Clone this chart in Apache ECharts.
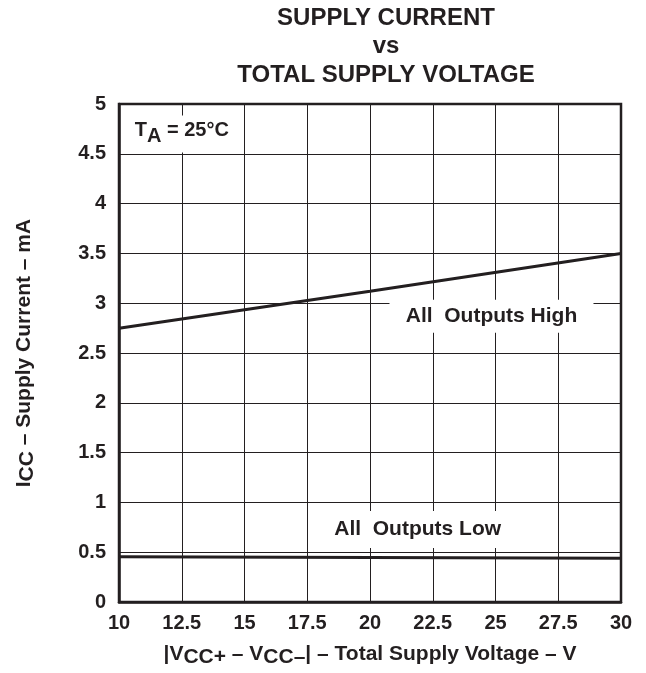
<!DOCTYPE html>
<html>
<head>
<meta charset="utf-8">
<style>html,body{margin:0;padding:0;background:#fff;overflow:hidden;}#c{width:646px;height:673px;}</style>
<script src="https://cdn.jsdelivr.net/npm/echarts@6/dist/echarts.min.js"></script>
</head>
<body>
<div id="c"></div>
<script>
const voltage = [10, 20, 30];
const highCurrent = [2.75, 3.12, 3.5];
const lowCurrent = [0.455, 0.448, 0.44];
const xTicks = [10, 12.5, 15, 17.5, 20, 22.5, 25, 27.5, 30];
const yTicks = [0, 0.5, 1, 1.5, 2, 2.5, 3, 3.5, 4, 4.5, 5];

const FONT = '"Liberation Sans", Arial, Helvetica, sans-serif';
const INK = '#231f20';

const chart = echarts.init(document.getElementById('c'), null, {renderer: 'canvas', width: 646, height: 673});
const pair = (xs, ys) => xs.map((x, i) => [x, ys[i]]);
const sub = {fontFamily: FONT, fontWeight: 'bold', fontSize: 20, color: INK, lineHeight: 26, verticalAlign: 'bottom', padding: [9, 0, 0, 0]};
const subName = {fontFamily: FONT, fontWeight: 'bold', fontSize: 21, color: INK, lineHeight: 27, verticalAlign: 'bottom', padding: [9, 0, 0, 0]};

chart.setOption({
  animation: false,
  backgroundColor: '#fff',
  title: {
    text: 'SUPPLY CURRENT\nvs\nTOTAL SUPPLY VOLTAGE',
    left: 381, top: -1, textAlign: 'center',
    textStyle: {fontFamily: FONT, fontWeight: 'bold', fontSize: 24, color: INK, lineHeight: 28.5}
  },
  grid: {left: 117, width: 504, top: 104, height: 503, show: true, borderColor: INK, borderWidth: 2.5, backgroundColor: 'transparent'},
  xAxis: {
    type: 'value', min: 10, max: 30, interval: 2.5,
    axisLine: {show: true, onZero: false, lineStyle: {color: INK, width: 2.5}},
    axisTick: {show: false},
    splitLine: {show: true, lineStyle: {color: INK, width: 1}},
    axisLabel: {
      margin: 11, fontFamily: FONT, fontWeight: 'bold', fontSize: 20, color: INK,
      formatter: v => { const t = xTicks.find(k => Math.abs(k - v) < 1e-6); return t === undefined ? '' : String(t); }
    },
    name: '|V{s|CC+} \u2013 V{s|CC\u2013}| \u2013 Total Supply Voltage \u2013 V',
    nameLocation: 'middle', nameGap: 38,
    nameTextStyle: {
      fontFamily: FONT, fontWeight: 'bold', fontSize: 21, color: INK, lineHeight: 27, verticalAlign: 'top',
      rich: {s: subName}
    }
  },
  yAxis: {
    type: 'value', min: 0, max: 5, interval: 0.5,
    axisLine: {show: true, onZero: false, lineStyle: {color: INK, width: 2.5}},
    axisTick: {show: false},
    splitLine: {show: true, lineStyle: {color: INK, width: 1}},
    axisLabel: {
      margin: 13, fontFamily: FONT, fontWeight: 'bold', fontSize: 20, color: INK,
      formatter: v => { const t = yTicks.find(k => Math.abs(k - v) < 1e-6); return t === undefined ? '' : String(t); }
    },
    name: 'I{s|CC} \u2013 Supply Current \u2013 mA',
    nameLocation: 'middle', nameGap: 108, nameRotate: 90,
    nameTextStyle: {
      fontFamily: FONT, fontWeight: 'bold', fontSize: 21, color: INK, lineHeight: 27, verticalAlign: 'top',
      rich: {s: subName}
    }
  },
  series: [
    {
      name: 'All Outputs High', type: 'line', data: pair(voltage, highCurrent),
      symbol: 'none', lineStyle: {color: INK, width: 3}, z: 3,
      markPoint: {
        silent: true, animation: false,
        data: [
          {
            coord: [24.84, 2.87], symbol: 'rect', symbolSize: [204, 33],
            itemStyle: {color: '#fff'},
            label: {show: true, position: 'inside', formatter: 'All  Outputs High',
              fontFamily: FONT, fontWeight: 'bold', fontSize: 21, color: INK}
          },
          {
            coord: [12.5, 4.70], symbol: 'rect', symbolSize: [112, 37],
            itemStyle: {color: '#fff'},
            label: {show: true, position: 'inside', formatter: '{a|T}{s|A}{a| = 25\u00b0C}',
              rich: {
                a: {fontFamily: FONT, fontWeight: 'bold', fontSize: 20, color: INK, lineHeight: 26, verticalAlign: 'top'},
                s: sub
              }}
          }
        ]
      }
    },
    {
      name: 'All Outputs Low', type: 'line', data: pair(voltage, lowCurrent),
      symbol: 'none', lineStyle: {color: INK, width: 3}, z: 3,
      markPoint: {
        silent: true, animation: false,
        data: [
          {
            coord: [21.9, 0.73], symbol: 'rect', symbolSize: [205, 37],
            itemStyle: {color: '#fff'},
            label: {show: true, position: 'inside', formatter: 'All  Outputs Low',
              fontFamily: FONT, fontWeight: 'bold', fontSize: 21, color: INK}
          }
        ]
      }
    }
  ]
});
</script>
</body>
</html>
